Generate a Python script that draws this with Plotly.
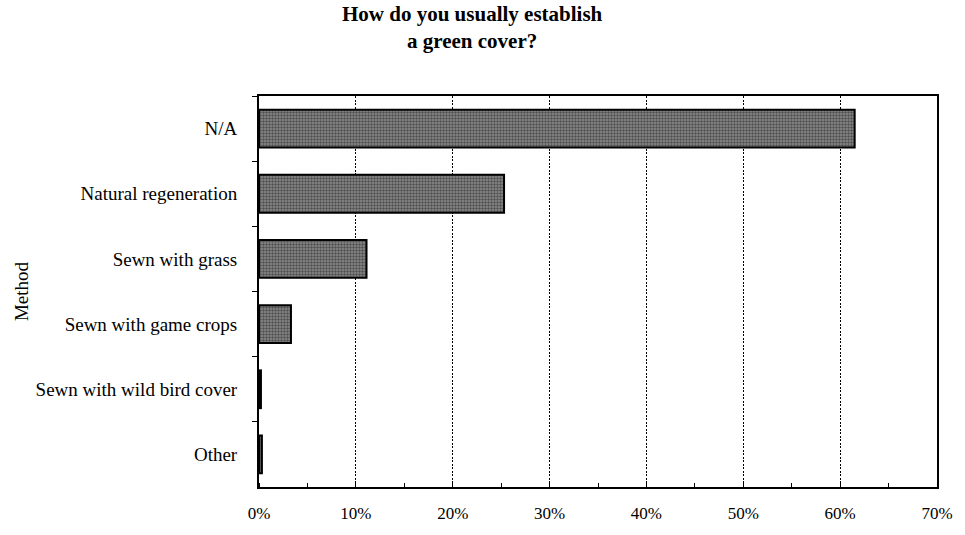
import plotly.graph_objects as go

categories = ["N/A", "Natural regeneration", "Sewn with grass", "Sewn with game crops",
              "Sewn with wild bird cover", "Other"]
values = [61.5, 25.3, 11.1, 3.3, 0.2, 0.3]
x_ticks = [0, 10, 20, 30, 40, 50, 60, 70]
x_labels = [f"{v}%" for v in x_ticks]
title_text = "How do you usually establish<br>a green cover?"

serif = "Liberation Serif, Times New Roman, serif"

fig = go.Figure(go.Bar(
    x=values, y=categories, orientation="h",
    marker=dict(color="#777777",
                pattern=dict(shape=".", fgcolor="#111111", bgcolor="#8c8c8c", size=3, solidity=0.5),
                line=dict(color="black", width=2)),
    width=0.58,
))

fig.add_annotation(
    text=f"<b>{title_text}</b>",
    xref="paper", yref="paper", x=0.315, y=1.0, xanchor="center", yanchor="middle",
    yshift=69, showarrow=False, align="center",
    font=dict(family=serif, size=21, color="black"),
)

fig.update_layout(
    width=965, height=535,
    margin=dict(l=259, r=25, t=96, b=40),
    paper_bgcolor="white", plot_bgcolor="white",
    showlegend=False,
    font=dict(family=serif, size=19, color="black"),
)
fig.update_xaxes(
    range=[0, 70], tickvals=x_ticks, ticktext=x_labels,
    showgrid=True, gridcolor="black", griddash="2px,1.5px", gridwidth=1.3,
    showline=True, linecolor="black", linewidth=2, mirror=True,
    ticks="", ticklabelstandoff=10,
    minor=dict(dtick=5, ticks="inside", ticklen=4, tickcolor="black", showgrid=False),
    zeroline=False,
    tickfont=dict(family=serif, size=17),
)
fig.update_yaxes(
    categoryorder="array", categoryarray=categories, autorange="reversed",
    showline=True, linecolor="black", linewidth=2, mirror=True,
    ticks="outside", tickson="boundaries", ticklen=5, tickcolor="black",
    ticklabelstandoff=16,
    title=dict(text="Method", font=dict(family=serif, size=19), standoff=2),
    tickfont=dict(family=serif, size=19),
)

fig.write_html("out.html")
